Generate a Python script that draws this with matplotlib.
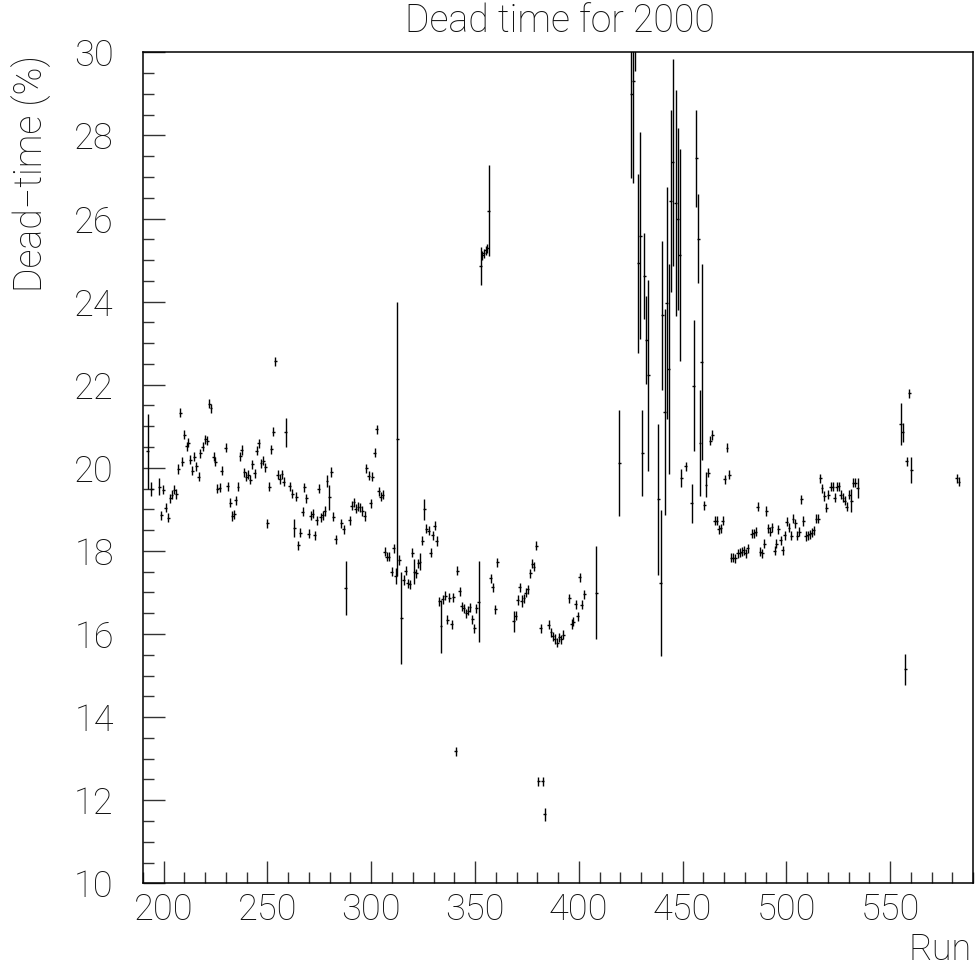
import matplotlib
matplotlib.use("Agg")
import matplotlib.pyplot as plt
from matplotlib.ticker import MultipleLocator

# Run numbers and dead time (%)
runs = [
    192.3, 194.0, 197.9, 198.9, 199.7, 201.0, 202.1, 203.2, 204.0, 205.0,
    206.0, 207.0, 208.0, 209.0, 210.0, 211.0, 211.8, 212.8, 213.7, 214.8,
    215.7, 216.9, 217.7, 218.8, 220.0, 220.9, 221.9, 222.8, 224.0, 224.9,
    225.9, 226.9, 228.0, 229.9, 230.9, 232.0, 233.1, 233.9, 234.8, 235.8,
    236.9, 237.7, 238.9, 239.8, 240.8, 241.8, 242.7, 243.8, 244.8, 245.8,
    246.9, 247.9, 249.0, 249.9, 250.9, 251.8, 252.8, 253.8, 254.9, 255.8,
    257.0, 257.9, 258.9, 260.8, 261.9, 262.9, 263.8, 264.8, 265.9, 266.9,
    267.8, 268.8, 269.8, 270.9, 271.9, 272.8, 273.8, 274.8, 275.6, 276.6,
    277.5, 278.7, 279.7, 280.7, 281.8, 282.9, 285.6, 286.7, 287.7, 289.6,
    290.6, 291.7, 292.6, 293.6, 294.6, 295.7, 296.8, 297.7, 298.7, 299.8,
    300.6, 301.7, 302.7, 303.7, 304.6, 305.6, 306.6, 307.5, 308.5, 309.8,
    310.8, 311.7, 312.6, 313.6, 314.5, 315.6, 316.6, 317.6, 318.6, 319.7,
    320.7, 321.6, 322.6, 323.5, 324.6, 325.6, 326.6, 327.6, 328.7, 329.7,
    330.6, 331.6, 332.8, 333.6, 334.5, 335.7, 336.6, 337.6, 338.7, 339.5,
    340.7, 341.4, 342.7, 343.6, 344.6, 345.7, 346.7, 347.6, 348.6, 349.7,
    350.7, 351.7, 352.7, 353.5, 354.3, 355.1, 355.9, 356.7, 357.6, 358.6,
    359.7, 360.7, 368.6, 369.6, 370.6, 371.5, 372.6, 373.6, 374.5, 375.5,
    376.6, 377.6, 378.4, 379.5, 380.5, 381.6, 382.6, 383.6, 385.6, 386.6,
    387.5, 388.5, 389.6, 390.6, 391.6, 392.6, 395.5, 396.5, 397.4, 398.6,
    399.5, 400.5, 401.5, 402.6, 408.5, 419.5, 425.2, 426.2, 427.2, 428.7,
    429.6, 430.6, 431.5, 432.5, 433.5, 438.4, 439.4, 440.3, 441.3, 442.3,
    443.3, 444.3, 445.2, 446.6, 447.6, 448.6, 449.3, 451.6, 454.4, 455.4,
    456.5, 457.5, 458.4, 459.2, 460.5, 461.3, 462.4, 463.4, 464.3, 465.5,
    466.4, 467.4, 468.4, 469.3, 470.3, 471.4, 472.4, 473.4, 474.5, 475.4,
    476.5, 477.5, 478.5, 479.4, 480.4, 481.4, 483.3, 484.3, 485.3, 486.2,
    487.4, 488.4, 489.3, 490.3, 491.2, 492.2, 493.1, 494.3, 495.2, 496.2,
    497.3, 498.3, 499.2, 500.2, 501.3, 502.3, 503.2, 504.2, 505.3, 506.3,
    507.3, 508.2, 509.3, 510.3, 511.2, 512.2, 513.2, 514.3, 515.3, 516.3,
    517.2, 518.3, 519.3, 520.2, 521.3, 522.3, 523.3, 524.2, 525.2, 526.3,
    527.3, 528.2, 529.2, 530.3, 531.3, 532.2, 533.3, 534.3, 555.2, 556.0,
    557.3, 558.1, 559.2, 560.2, 582.1, 583.2,
]

dead_time = [
    20.4, 19.5, 19.55, 18.86, 19.47, 19.04, 18.8, 19.27, 19.35, 19.47,
    19.37, 19.97, 21.33, 20.15, 20.8, 20.52, 20.6, 20.2, 19.93, 20.27,
    20.04, 19.79, 20.35, 20.51, 20.69, 20.65, 21.54, 21.43, 20.27, 20.15,
    19.5, 19.52, 19.93, 20.48, 19.56, 19.16, 18.84, 18.88, 19.22, 19.55,
    20.28, 20.43, 19.89, 19.79, 19.83, 19.71, 20.09, 19.87, 20.41, 20.59,
    20.11, 20.17, 20.01, 18.66, 19.55, 20.45, 20.87, 22.56, 19.83, 19.73,
    19.84, 19.67, 20.85, 19.56, 19.38, 18.56, 19.3, 18.14, 18.44, 18.94,
    19.53, 19.27, 18.41, 18.85, 18.9, 18.38, 18.74, 19.5, 18.81, 18.86,
    18.96, 19.68, 19.29, 19.9, 18.82, 18.28, 18.66, 18.52, 17.1, 18.74,
    19.09, 19.17, 19.02, 19.06, 19.05, 18.96, 18.84, 19.99, 19.81, 19.15,
    19.79, 20.36, 20.93, 19.43, 19.3, 19.35, 17.98, 17.86, 17.86, 17.5,
    18.06, 17.4, 20.7, 17.78, 16.39, 17.3, 17.52, 17.22, 17.2, 17.96,
    17.5, 17.46, 17.7, 17.74, 18.25, 19.0, 18.53, 18.49, 17.96, 18.38,
    18.61, 18.24, 16.79, 16.19, 16.84, 16.92, 16.34, 16.87, 16.23, 16.88,
    13.18, 17.52, 17.03, 16.67, 16.62, 16.5, 16.56, 16.64, 16.35, 16.14,
    16.62, 16.78, 24.86, 25.12, 25.16, 25.24, 25.28, 26.19, 17.34, 17.12,
    16.6, 17.73, 16.31, 16.44, 16.82, 17.12, 16.79, 16.86, 16.99, 17.08,
    17.46, 17.69, 17.62, 18.12, 12.46, 16.14, 12.46, 11.66, 16.22, 16.04,
    15.95, 15.88, 15.79, 15.92, 15.87, 15.98, 16.86, 16.24, 16.3, 16.72,
    16.43, 17.37, 16.71, 16.96, 16.99, 20.12, 29.0, 29.32, 31.0, 24.92,
    25.59, 20.35, 24.62, 23.08, 22.23, 19.24, 17.23, 23.67, 21.35, 23.96,
    22.37, 26.43, 27.35, 26.37, 25.99, 25.12, 19.75, 20.04, 19.15, 21.98,
    27.45, 25.51, 20.6, 22.55, 19.1, 19.59, 19.88, 20.65, 20.79, 18.73,
    18.73, 18.52, 18.54, 18.73, 19.72, 20.48, 19.83, 17.84, 17.84, 17.82,
    17.94, 17.96, 17.98, 18.02, 17.94, 18.06, 18.41, 18.42, 18.46, 19.06,
    17.98, 17.94, 18.17, 18.96, 18.54, 18.46, 18.57, 18.0, 18.17, 18.52,
    18.26, 18.02, 18.38, 18.7, 18.56, 18.37, 18.78, 18.66, 18.37, 18.46,
    19.24, 18.72, 18.36, 18.38, 18.4, 18.44, 18.5, 18.78, 18.78, 19.75,
    19.51, 19.32, 19.04, 19.35, 19.55, 19.55, 19.28, 19.55, 19.56, 19.35,
    19.28, 19.21, 19.06, 19.35, 19.21, 19.64, 19.64, 19.51, 21.05, 20.85,
    15.15, 20.16, 21.79, 19.95, 19.75, 19.67,
]

# Runs with a visibly larger error bar; everything else gets the small default
wide_errors = {
    192.3: 0.9, 194.0: 0.17, 197.9: 0.2, 258.9: 0.35, 262.9: 0.22,
    278.7: 0.15, 279.7: 0.3, 287.7: 0.65, 311.7: 0.2, 312.6: 3.3,
    314.5: 1.1, 320.7: 0.3, 323.5: 0.2, 325.6: 0.25, 333.6: 0.64,
    351.7: 0.97, 352.7: 0.45, 356.7: 1.1, 368.6: 0.25, 372.6: 0.15,
    383.6: 0.15, 408.5: 1.12, 419.5: 1.28, 425.2: 2.03, 426.2: 2.46,
    427.2: 1.45, 428.7: 2.15, 429.6: 2.5, 430.6: 1.04, 431.5: 1.03,
    432.5: 1.06, 433.5: 2.3, 438.4: 1.81, 439.4: 1.76, 440.3: 1.79,
    441.3: 2.48, 442.3: 2.79, 443.3: 2.53, 444.3: 2.19, 445.2: 2.5,
    446.6: 2.72, 447.6: 2.18, 448.6: 2.56, 449.3: 0.22, 454.4: 0.47,
    455.4: 1.57, 456.5: 1.17, 457.5: 1.07, 458.4: 1.27, 459.2: 2.35,
    461.3: 0.3, 531.3: 0.28, 534.3: 0.24, 555.2: 0.5, 556.0: 0.24,
    557.3: 0.38, 560.2: 0.31,
}
errors = [wide_errors.get(r, 0.11) for r in runs]

# thin lettering, closer to the ROOT/Hershey look
plt.rcParams["font.family"] = ["Roboto", "DejaVu Sans"]
plt.rcParams["font.weight"] = "light"
text_color = "#111111"

fig = plt.figure(figsize=(9.79, 9.74), dpi=100)
ax = fig.add_axes([0.146, 0.0931, 0.848, 0.8532])

ax.errorbar(runs, dead_time, yerr=errors, xerr=0.7, fmt="none",
            ecolor="black", elinewidth=1.0, capsize=0)

ax.set_xlim(190, 590)
ax.set_ylim(10, 30)

# ROOT style ticks: inside, only on left and bottom
ax.xaxis.set_major_locator(MultipleLocator(50))
ax.xaxis.set_minor_locator(MultipleLocator(10))
ax.yaxis.set_major_locator(MultipleLocator(2))
ax.yaxis.set_minor_locator(MultipleLocator(0.5))
ax.tick_params(which="both", direction="in", top=False, right=False,
               color="#333333", width=1.0, labelcolor=text_color)
ax.tick_params(which="major", length=16, labelsize=26)
ax.tick_params(which="minor", length=8)
ax.tick_params(axis="x", which="major", pad=6)
ax.tick_params(axis="y", which="major", pad=21)
for label in ax.get_xticklabels() + ax.get_yticklabels():
    label.set_fontweight("light")
for spine in ax.spines.values():
    spine.set_linewidth(1.1)

fig.text(0.572, 1 - 21 / 974, "Dead time for 2000", ha="center", va="center",
         fontsize=27, fontweight="light", color=text_color)
fig.text(31 / 979, 1 - 55 / 974, "Dead\u2212time (%)", rotation=90,
         ha="center", va="top", fontsize=27, fontweight="light",
         color=text_color)
fig.text(972 / 979, 1 - 950 / 974, "Run", ha="right", va="center",
         fontsize=26, fontweight="light", color=text_color)

plt.savefig("out.png", dpi=100)
